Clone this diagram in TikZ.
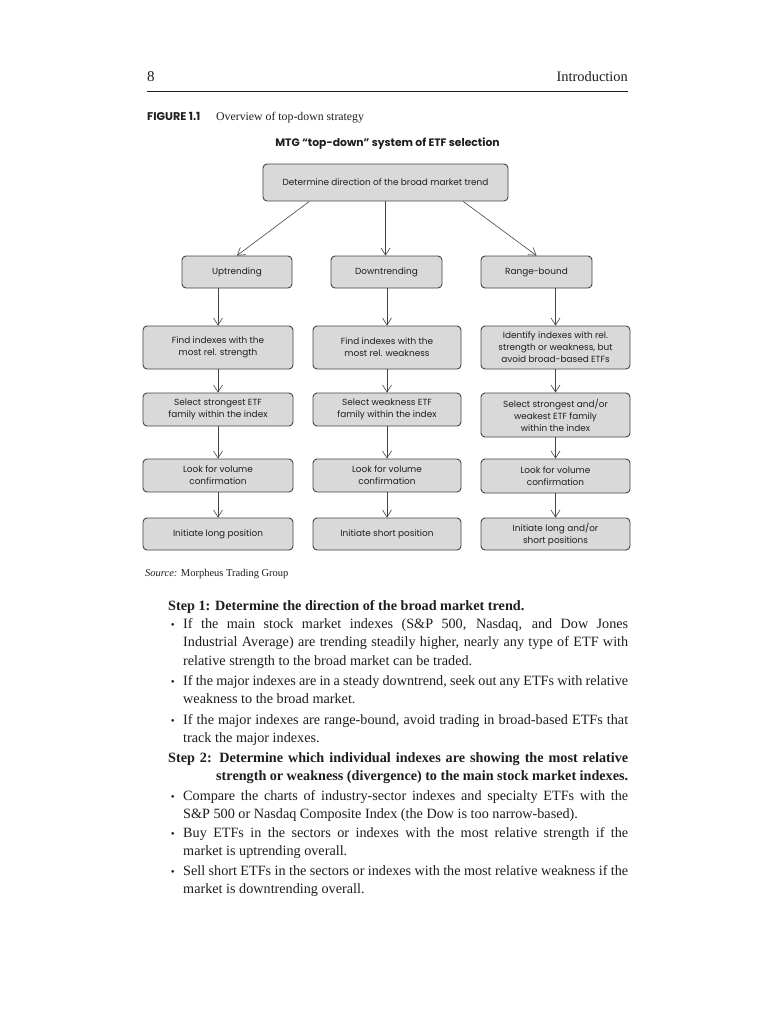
\documentclass[tikz,border=0pt]{standalone}
\usepackage{fontspec}
\setmainfont{Liberation Serif}
\newfontfamily\fut{Poppins}
\usetikzlibrary{arrows.meta,calc}
\definecolor{boxfill}{HTML}{D9D9D9}
\definecolor{boxdraw}{HTML}{444444}
\definecolor{arrcol}{HTML}{444444}
\definecolor{ink}{HTML}{1E1E1E}
\begin{document}
\begin{tikzpicture}[x=1pt,y=-1pt,
  box/.style={draw=boxdraw, fill=boxfill, rounded corners=4pt, line width=0.9pt,
    align=center, inner sep=0pt, text=ink, font=\fut\fontsize{8.9}{12}\selectfont},
  arr/.style={draw=arrcol, line width=0.6pt,
    -{Straight Barb[length=7pt,width=9pt,line width=0.6pt]}},
  body/.style={anchor=base west, inner sep=0pt, text=ink, font=\fontsize{14.2}{18.7}\selectfont},
  bodyb/.style={body, font=\bfseries\fontsize{14.2}{18.7}\selectfont}]
\useasboundingbox (0,0) rectangle (768,1024);
\fill[white] (0,0) rectangle (768,1024);

% header
\node[body, font=\fontsize{15}{16}\selectfont] (pg) at (147,82) {8};
\node[body, anchor=base east, font=\fontsize{14.4}{16}\selectfont] (hd) at (628,82) {Introduction};
\coordinate (r1) at (147,91);
\coordinate (r2) at (628,91);
\draw[line width=0.9pt, ink] (r1) -- (r2);

% caption
\node[body, font=\fut\bfseries\fontsize{11.2}{12}\selectfont] (fig) at (147,121) {FIGURE 1.1};
\node[body, font=\fontsize{11.8}{13}\selectfont] (cap) at (216,121) {Overview of top-down strategy};
\node[inner sep=0pt, anchor=base, text=ink, font=\fut\bfseries\fontsize{10.8}{12}\selectfont] (title) at (387.5,147) {MTG “top-down” system of ETF selection};

% boxes
\node[box, minimum width=245pt, minimum height=37pt] (top) at (385.5,182.5) {Determine direction of the broad market trend};
\node[box, minimum width=110pt, minimum height=32pt] (up) at (237,272) {Uptrending};
\node[box, minimum width=111pt, minimum height=32pt] (down) at (386.5,272) {Downtrending};
\node[box, minimum width=111pt, minimum height=32pt] (range) at (536.5,272) {Range-bound};

\node[box, minimum width=150pt, minimum height=43pt] (l3) at (218,347.5) {Find indexes with the\\most rel. strength};
\node[box, minimum width=148pt, minimum height=43pt] (m3) at (387,347.5) {Find indexes with the\\most rel. weakness};
\node[box, minimum width=149pt, minimum height=43pt] (r3) at (555.5,347.5) {Identify indexes with rel.\\strength or weakness, but\\avoid broad-based ETFs};

\node[box, minimum width=150pt, minimum height=33pt] (l4) at (218,409.5) {Select strongest ETF\\family within the index};
\node[box, minimum width=148pt, minimum height=33pt] (m4) at (387,409.5) {Select weakness ETF\\family within the index};
\node[box, minimum width=149pt, minimum height=44pt] (r4) at (555.5,415) {Select strongest and/or\\weakest ETF family\\within the index};

\node[box, minimum width=150pt, minimum height=33pt] (l5) at (218,475.5) {Look for volume\\confirmation};
\node[box, minimum width=148pt, minimum height=33pt] (m5) at (387,475.5) {Look for volume\\confirmation};
\node[box, minimum width=149pt, minimum height=34pt] (r5) at (555.5,476) {Look for volume\\confirmation};

\node[box, minimum width=150pt, minimum height=32pt] (l6) at (218,534) {Initiate long position};
\node[box, minimum width=148pt, minimum height=32pt] (m6) at (387,534) {Initiate short position};
\node[box, minimum width=149pt, minimum height=32pt] (r6) at (555.5,534) {Initiate long and/or\\short positions};

% arrows
\draw[arr] ($(top.south west)!0.19!(top.south east)$) -- (up.north);
\draw[arr] (top.south) -- (top.south |- down.north);
\draw[arr] ($(top.south west)!0.816!(top.south east)$) -- (range.north);
\draw[arr] (up.south -| l3.north) -- (l3.north);
\draw[arr] (down.south -| m3.north) -- (m3.north);
\draw[arr] (range.south -| r3.north) -- (r3.north);
\draw[arr] (l3) -- (l4);
\draw[arr] (m3) -- (m4);
\draw[arr] (r3) -- (r4);
\draw[arr] (l4) -- (l5);
\draw[arr] (m4) -- (m5);
\draw[arr] (r4) -- (r5);
\draw[arr] (l5) -- (l6);
\draw[arr] (m5) -- (m6);
\draw[arr] (r5) -- (r6);

% source
\node[body, font=\fontsize{10.5}{12}\selectfont] (src) at (145,576) {\textit{Source:} Morpheus Trading Group};

% body text
\newcommand{\bul}{\llap{{\fontsize{11}{12}\selectfont\textbullet}\hspace{8.5pt}}}
\newcommand{\jl}[1]{\makebox[445pt][s]{#1}}
\node[bodyb] (s1) at (168,610) {Step 1: Determine the direction of the broad market trend.};
\node[body] (a1) at (183,628) {\bul\jl{If the main stock market indexes (S\&P 500, Nasdaq, and Dow Jones}};
\node[body] (a2) at (183,646.7) {\jl{Industrial Average) are trending steadily higher, nearly any type of ETF with}};
\node[body] (a3) at (183,665.4) {relative strength to the broad market can be traded.};
\node[body] (b1) at (183,685) {\bul\jl{If the major indexes are in a steady downtrend, seek out any ETFs with relative}};
\node[body] (b2) at (183,703.7) {weakness to the broad market.};
\node[body] (c1) at (183,724) {\bul\jl{If the major indexes are range-bound, avoid trading in broad-based ETFs that}};
\node[body] (c2) at (183,742.7) {track the major indexes.};
\node[bodyb] (s2) at (168,762) {\makebox[460pt][s]{Step 2: Determine which individual indexes are showing the most relative}};
\node[bodyb] (s2b) at (216,780.7) {\makebox[412pt][s]{strength or weakness (divergence) to the main stock market indexes.}};
\node[body] (d1) at (183,800) {\bul\jl{Compare the charts of industry-sector indexes and specialty ETFs with the}};
\node[body] (d2) at (183,818.7) {S\&P 500 or Nasdaq Composite Index (the Dow is too narrow-based).};
\node[body] (e1) at (183,837) {\bul\jl{Buy ETFs in the sectors or indexes with the most relative strength if the}};
\node[body] (e2) at (183,855.7) {market is uptrending overall.};
\node[body] (f1) at (183,875) {\bul\jl{Sell short ETFs in the sectors or indexes with the most relative weakness if the}};
\node[body] (f2) at (183,893.7) {market is downtrending overall.};
\end{tikzpicture}
\end{document}
